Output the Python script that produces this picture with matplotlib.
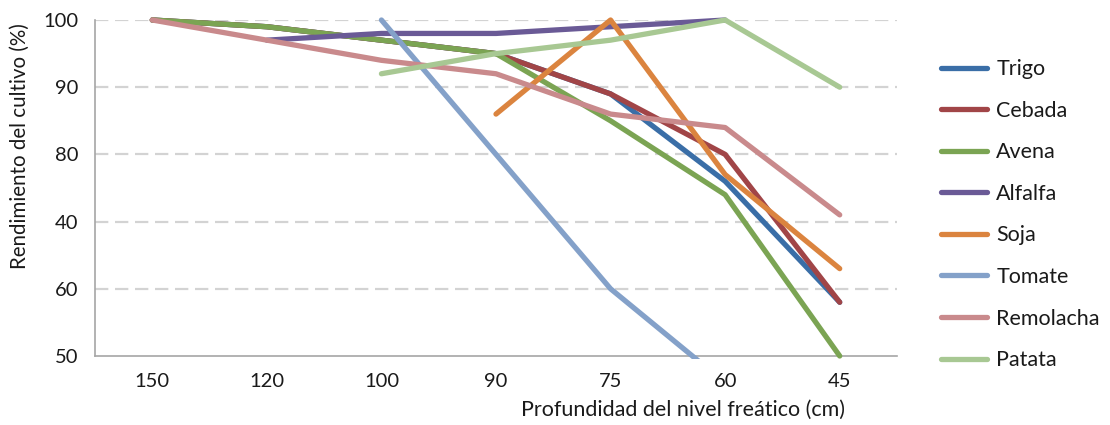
import matplotlib
matplotlib.use("Agg")
import matplotlib.pyplot as plt
from matplotlib.patches import Rectangle
import numpy as np

plt.rcParams['font.family'] = ['Lato', 'DejaVu Sans']

# Water-table depth categories (cm)
depths = ["150", "120", "100", "90", "75", "60", "45"]

# Crop yield per depth (None = no data)
trigo     = [100, 99, 97, 95, 89, 76, 58]
cebada    = [100, 99, 97, 95, 89, 80, 58]
avena     = [100, 99, 97, 95, 85, 74, 50]
alfalfa   = [None, 97, 98, 98, 99, 100, None]
soja      = [None, None, None, 86, 100, 77, 63]
tomate    = [None, None, 100, 80, 60, 46, None]
remolacha = [100, 97, 94, 92, 86, 84, 71]
patata    = [None, None, 92, 95, 97, 100, 90]

series_names = ["Trigo", "Cebada", "Avena", "Alfalfa", "Soja", "Tomate", "Remolacha", "Patata"]
series_vals = [trigo, cebada, avena, alfalfa, soja, tomate, remolacha, patata]
series_colors = ["#3A6EA7", "#A14547", "#7BA453", "#6A5A96", "#DB843F",
                 "#84A1C9", "#C98A8C", "#A8C893"]

y_ticks = [50, 60, 70, 80, 90, 100]
y_tick_labels = ["50", "60", "40", "80", "90", "100"]

W, H = 1110, 425
fig = plt.figure(figsize=(W / 100, H / 100), dpi=100)
ax = fig.add_axes([95 / W, 1 - 356 / H, (897 - 95) / W, (356 - 20) / H])

x = np.arange(len(depths))
clip = Rectangle((-1, 49.6), len(depths) + 2, 70, transform=ax.transData)

for name, vals, col in zip(series_names, series_vals, series_colors):
    y = np.array([np.nan if v is None else v for v in vals], dtype=float)
    line, = ax.plot(x, y, color=col, lw=3.8, label=name,
                    solid_capstyle='round', solid_joinstyle='round', zorder=3)
    line.set_clip_path(clip)

ax.set_xlim(-0.5, len(depths) - 0.5)
ax.set_ylim(50, 100)
ax.set_xticks(x)
ax.set_xticklabels(depths)
ax.set_yticks(y_ticks)
ax.set_yticklabels(y_tick_labels)
ax.tick_params(axis='both', length=0, labelsize=14.5, colors='#1a1a1a')
ax.tick_params(axis='x', pad=12)
ax.tick_params(axis='y', pad=12)

for t in y_ticks[1:]:
    ax.axhline(t, color='#D3D3D3', lw=1.6, ls=(0, (6, 3)), zorder=1)

for s in ['top', 'right']:
    ax.spines[s].set_visible(False)
for s in ['left', 'bottom']:
    ax.spines[s].set_color('#A6A6A6')
    ax.spines[s].set_linewidth(1.2)

fig.text(683 / W, 1 - 410 / H, "Profundidad del nivel freático (cm)",
         ha='center', va='center', fontsize=15.5, color='#1a1a1a')
fig.text(20 / W, 1 - 146 / H, "Rendimiento del cultivo (%)",
         ha='center', va='center', rotation=90, fontsize=14.8, color='#1a1a1a')

leg = fig.legend(loc='upper left', bbox_to_anchor=(922 / W, 1 - 40 / H),
                 frameon=False, fontsize=15.5, handlelength=2.1,
                 handletextpad=0.45, labelspacing=1.0)
for h in leg.get_lines():
    h.set_solid_capstyle('round')
for t in leg.get_texts():
    t.set_color('#1a1a1a')

fig.savefig("out.png", dpi=100)
